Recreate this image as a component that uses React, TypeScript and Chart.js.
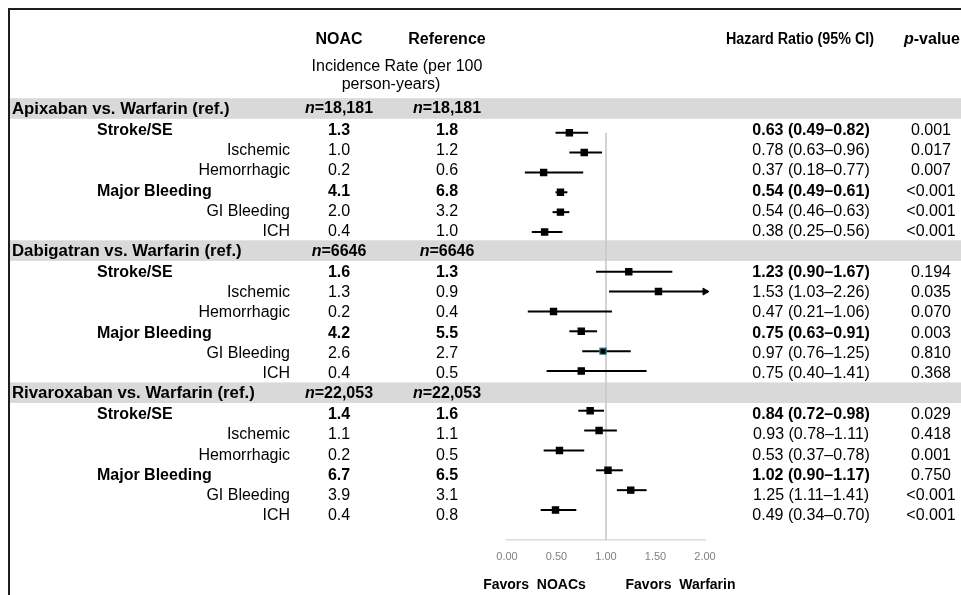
import React, { useEffect, useRef } from "react";
import { Chart, registerables } from "chart.js";

Chart.register(...registerables);

// ---------------- data ----------------
const groups = [
  "Apixaban vs. Warfarin (ref.)",
  "Dabigatran vs. Warfarin (ref.)",
  "Rivaroxaban vs. Warfarin (ref.)",
];
const groupN = ["18,181", "6646", "22,053"];
const outcomes = ["Stroke/SE", "Ischemic", "Hemorrhagic", "Major Bleeding", "GI Bleeding", "ICH"];
const outcomeBold = [true, false, false, true, false, false];

const noacRate = [
  [1.3, 1.0, 0.2, 4.1, 2.0, 0.4],
  [1.6, 1.3, 0.2, 4.2, 2.6, 0.4],
  [1.4, 1.1, 0.2, 6.7, 3.9, 0.4],
];
const refRate = [
  [1.8, 1.2, 0.6, 6.8, 3.2, 1.0],
  [1.3, 0.9, 0.4, 5.5, 2.7, 0.5],
  [1.6, 1.1, 0.5, 6.5, 3.1, 0.8],
];
const hrValue = [
  [0.63, 0.78, 0.37, 0.54, 0.54, 0.38],
  [1.23, 1.53, 0.47, 0.75, 0.97, 0.75],
  [0.84, 0.93, 0.53, 1.02, 1.25, 0.49],
];
const ciLow = [
  [0.49, 0.63, 0.18, 0.49, 0.46, 0.25],
  [0.9, 1.03, 0.21, 0.63, 0.76, 0.4],
  [0.72, 0.78, 0.37, 0.9, 1.11, 0.34],
];
const ciHigh = [
  [0.82, 0.96, 0.77, 0.61, 0.63, 0.56],
  [1.67, 2.26, 1.06, 0.91, 1.25, 1.41],
  [0.98, 1.11, 0.78, 1.17, 1.41, 0.7],
];
const pValues = [
  ["0.001", "0.017", "0.007", "<0.001", "<0.001", "<0.001"],
  ["0.194", "0.035", "0.070", "0.003", "0.810", "0.368"],
  ["0.029", "0.418", "0.001", "0.750", "<0.001", "<0.001"],
];
const xTicks = [0, 0.5, 1, 1.5, 2];
const refValue = 1;
const highlighted = { group: 1, outcome: 4 };

// ---------------- layout constants ----------------
const W = 961;
const H = 595;
const FONT = '"Liberation Sans", Arial, sans-serif';
const ROWS_PER_GROUP = outcomes.length + 1;
const Y_MIN = -4.675;
const Y_MAX = 21.51;
const TEXT_Y0 = 110;
const TEXT_PITCH = 20.3;
const COL_NOAC = 339;
const COL_REF = 447;
const COL_HR = 811;
const COL_P = 931;

const rowOf = (g: number, j: number) => g * ROWS_PER_GROUP + 1 + j;
const textY = (row: number) => TEXT_Y0 + TEXT_PITCH * row;

export default function App() {
  const ref = useRef<HTMLCanvasElement | null>(null);

  useEffect(() => {
    document.body.style.margin = "0";
    const canvas = ref.current;
    if (!canvas) return;

    const xMin = xTicks[0];
    const xMax = xTicks[xTicks.length - 1];

    const markerData: { x: number; y: number }[] = [];
    const markerBorder: string[] = [];
    const datasets: any[] = [];

    groups.forEach((_, g) => {
      outcomes.forEach((__, j) => {
        const row = rowOf(g, j);
        markerData.push({ x: hrValue[g][j], y: row });
        markerBorder.push(g === highlighted.group && j === highlighted.outcome ? "#2f8596" : "#000000");
        datasets.push({
          type: "scatter",
          showLine: true,
          data: [
            { x: ciLow[g][j], y: row },
            { x: Math.min(ciHigh[g][j], xMax), y: row },
          ],
          borderColor: "#000000",
          borderWidth: 2,
          pointRadius: 0,
          order: 2,
        });
        if (ciHigh[g][j] > xMax) {
          datasets.push({
            type: "scatter",
            data: [{ x: xMax, y: row }],
            pointStyle: "triangle",
            rotation: 90,
            pointRadius: 4,
            backgroundColor: "#000000",
            borderColor: "#000000",
            borderWidth: 1,
            clip: false,
            order: 1,
          });
        }
      });
    });

    datasets.unshift({
      type: "scatter",
      data: markerData,
      pointStyle: "rect",
      pointRadius: 4.4,
      backgroundColor: "#000000",
      borderColor: markerBorder,
      borderWidth: 1.2,
      order: 0,
    });

    datasets.push({
      type: "scatter",
      showLine: true,
      data: [
        { x: refValue, y: rowOf(0, 0) },
        { x: refValue, y: Y_MAX },
      ],
      borderColor: "#c8c8c8",
      borderWidth: 1.6,
      pointRadius: 0,
      order: 5,
    });

    const tablePlugin = {
      id: "tablePlugin",
      beforeDraw(chart: any) {
        const ctx = chart.ctx as CanvasRenderingContext2D;
        ctx.save();
        ctx.fillStyle = "#ffffff";
        ctx.fillRect(0, 0, W, H);
        // group bands
        ctx.fillStyle = "#d9d9d9";
        groups.forEach((_, g) => {
          const yc = textY(g * ROWS_PER_GROUP) - 1.5;
          ctx.fillRect(10, yc - 10.3, W - 10, 20.6);
        });
        // frame
        ctx.strokeStyle = "#1e1e1e";
        ctx.lineWidth = 2;
        ctx.beginPath();
        ctx.moveTo(9, H);
        ctx.lineTo(9, 9);
        ctx.lineTo(W, 9);
        ctx.stroke();
        ctx.restore();
      },
      afterDraw(chart: any) {
        const ctx = chart.ctx as CanvasRenderingContext2D;
        ctx.save();
        ctx.fillStyle = "#000000";
        ctx.textBaseline = "middle";

        const text = (s: string, x: number, y: number, font: string, align: CanvasTextAlign) => {
          ctx.font = font;
          ctx.textAlign = align;
          ctx.fillText(s, x, y);
        };
        const bold = (px: number) => `bold ${px}px ${FONT}`;
        const reg = (px: number) => `${px}px ${FONT}`;
        const boldItalic = (px: number) => `italic bold ${px}px ${FONT}`;

        const mixed = (a: string, b: string, cx: number, y: number, fa: string, fb: string) => {
          ctx.font = fa;
          const wa = ctx.measureText(a).width;
          ctx.font = fb;
          const wb = ctx.measureText(b).width;
          const x0 = cx - (wa + wb) / 2;
          text(a, x0, y, fa, "left");
          text(b, x0 + wa, y, fb, "left");
        };

        // headers
        text("NOAC", COL_NOAC, 40, bold(16), "center");
        text("Reference", COL_REF, 40, bold(16), "center");
        text("Incidence Rate (per 100", 397, 67, reg(16), "center");
        text("person-years)", 391, 85, reg(16), "center");

        // condensed HR header (right edge at 874, width ~148)
        {
          const s = "Hazard Ratio (95% CI)";
          ctx.font = bold(16);
          const w = ctx.measureText(s).width;
          const k = 148 / w;
          ctx.save();
          ctx.translate(874, 40);
          ctx.scale(k, 1);
          text(s, 0, 0, bold(16), "right");
          ctx.restore();
        }
        ctx.font = boldItalic(16);
        const pw = ctx.measureText("p").width;
        text("p", 904, 40, boldItalic(16), "left");
        text("-value", 904 + pw, 40, bold(16), "left");

        groups.forEach((gName, g) => {
          const by = textY(g * ROWS_PER_GROUP) - 1;
          text(gName, 12, by, bold(16.8), "left");
          mixed("n", "=" + groupN[g], COL_NOAC, by, boldItalic(16), bold(16));
          mixed("n", "=" + groupN[g], COL_REF, by, boldItalic(16), bold(16));
          outcomes.forEach((o, j) => {
            const y = textY(rowOf(g, j));
            const isB = outcomeBold[j];
            const f = isB ? bold(16) : reg(16);
            if (isB) text(o, 97, y, f, "left");
            else text(o, 290, y, f, "right");
            text(noacRate[g][j].toFixed(1), COL_NOAC, y, f, "center");
            text(refRate[g][j].toFixed(1), COL_REF, y, f, "center");
            const hrs = `${hrValue[g][j].toFixed(2)} (${ciLow[g][j].toFixed(2)}\u2013${ciHigh[g][j].toFixed(2)})`;
            text(hrs, COL_HR, y, f, "center");
            text(pValues[g][j], COL_P, y, reg(16), "center");
          });
        });

        // favors labels
        const area = chart.chartArea;
        const xs = chart.scales.x;
        const left = xs.getPixelForValue(xMin);
        const mid = xs.getPixelForValue(refValue);
        const right = xs.getPixelForValue(xMax);
        text("Favors  NOACs", (left + mid) / 2 - 22, area.bottom + 45, bold(14), "center");
        text("Favors  Warfarin", (mid + right) / 2 + 25, area.bottom + 45, bold(14), "center");
        ctx.restore();
      },
    };

    const chart = new Chart(canvas, {
      type: "scatter",
      data: { datasets },
      options: {
        animation: false,
        responsive: false,
        events: [],
        layout: { padding: { left: 507, right: W - 705, top: 20, bottom: 0 } },
        plugins: { legend: { display: false }, tooltip: { enabled: false } },
        scales: {
          x: {
            type: "linear",
            min: xMin,
            max: xMax,
            afterFit: (scale: any) => {
              scale.height = H - 540;
            },
            afterBuildTicks: (scale: any) => {
              scale.ticks = xTicks.map((v) => ({ value: v }));
            },
            grid: { display: false, drawTicks: false },
            border: { display: true, color: "#d9d9d9", width: 1.5 },
            ticks: {
              padding: 10,
              color: "#7f7f7f",
              font: { family: FONT, size: 11 },
              callback: (v: any) => Number(v).toFixed(2),
            },
          },
          y: {
            type: "linear",
            display: false,
            reverse: true,
            min: Y_MIN,
            max: Y_MAX,
          },
        },
      },
      plugins: [tablePlugin],
    });

    return () => chart.destroy();
  }, []);

  return <canvas ref={ref} width={W} height={H} style={{ display: "block" }} />;
}
